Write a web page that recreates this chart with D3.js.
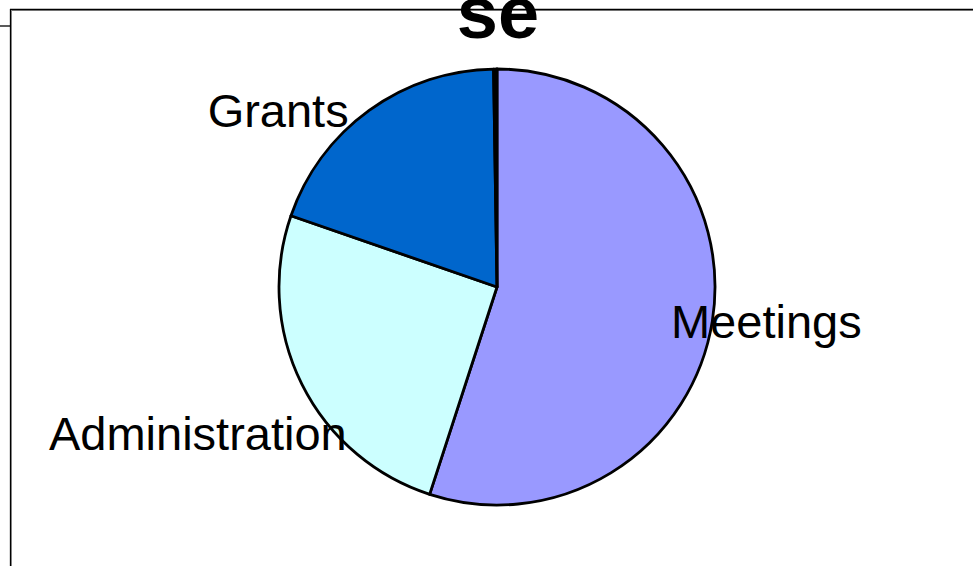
<!DOCTYPE html>
<html>
<head>
<meta charset="utf-8">
<script src="https://cdn.jsdelivr.net/npm/d3@7/dist/d3.min.js"></script>
<style>
  body { margin: 0; background: #fff; }
  svg { display: block; font-family: "Liberation Sans", Arial, sans-serif; }
</style>
</head>
<body>
<svg id="chart" width="973" height="566"></svg>
<script>
// Chart data
var categories = ['Meetings', 'Administration', 'Grants', 'Other'];
var values = [55.0, 25.3, 19.45, 0.25];
var colors = ['#9999FF', '#CCFFFF', '#0066CC', '#000000'];
var labels = ['Meetings', 'Administration', 'Grants', ''];
var title = 'se';

// layout
var layout = { width: 973, height: 566, cx: 497, cy: 287, radius: 218 };
// label nudges relative to slice edge centroid (Excel best-fit placement)
var labelShift = { Meetings: [54, 17], Administration: [-104, 66], Grants: [-91, 17] };

var svg = d3.select('#chart');

// frame lines (clipped chart area border)
var frame = svg.append('g');
frame.append('line').attr('x1', 10).attr('x2', layout.width).attr('y1', 10.5).attr('y2', 10.5)
  .attr('stroke', '#999').attr('stroke-width', 1);
frame.append('line').attr('x1', 10).attr('x2', layout.width).attr('y1', 9.5).attr('y2', 9.5)
  .attr('stroke', '#000').attr('stroke-width', 1.3);
frame.append('line').attr('x1', 11.5).attr('x2', 11.5).attr('y1', 10).attr('y2', layout.height)
  .attr('stroke', '#999').attr('stroke-width', 1);
frame.append('line').attr('x1', 10.5).attr('x2', 10.5).attr('y1', 9).attr('y2', layout.height)
  .attr('stroke', '#000').attr('stroke-width', 1.3);
frame.append('line').attr('x1', 0).attr('x2', 10).attr('y1', 26).attr('y2', 26)
  .attr('stroke', '#000').attr('stroke-width', 1.3);

var data = categories.map(function (c, i) {
  return { id: c, value: values[i], color: colors[i], label: labels[i] };
});

var pie = d3.pie().sort(null).value(function (d) { return d.value; });
var arc = d3.arc().innerRadius(0).outerRadius(layout.radius);
var edgeArc = d3.arc().innerRadius(layout.radius).outerRadius(layout.radius);

var g = svg.append('g').attr('transform', 'translate(' + layout.cx + ',' + layout.cy + ')');

var arcs = pie(data);

g.selectAll('path.slice')
  .data(arcs)
  .enter().append('path')
  .attr('class', 'slice')
  .attr('d', arc)
  .attr('fill', function (d) { return d.data.color; })
  .attr('stroke', '#000')
  .attr('stroke-width', 2.8)
  .attr('stroke-linejoin', 'round');

// slice labels
g.selectAll('text.label')
  .data(arcs.filter(function (d) { return d.data.label; }))
  .enter().append('text')
  .attr('class', 'label')
  .attr('x', function (d) { return edgeArc.centroid(d)[0] + labelShift[d.data.id][0]; })
  .attr('y', function (d) { return edgeArc.centroid(d)[1] + labelShift[d.data.id][1]; })
  .attr('text-anchor', 'middle')
  .attr('font-size', 47)
  .attr('fill', '#000')
  .text(function (d) { return d.data.label; });

// title (cut off at top, as in the source)
svg.append('text')
  .attr('x', 498)
  .attr('y', 38)
  .attr('text-anchor', 'middle')
  .attr('font-size', 74)
  .attr('font-weight', 'bold')
  .text(title);
</script>
</body>
</html>
